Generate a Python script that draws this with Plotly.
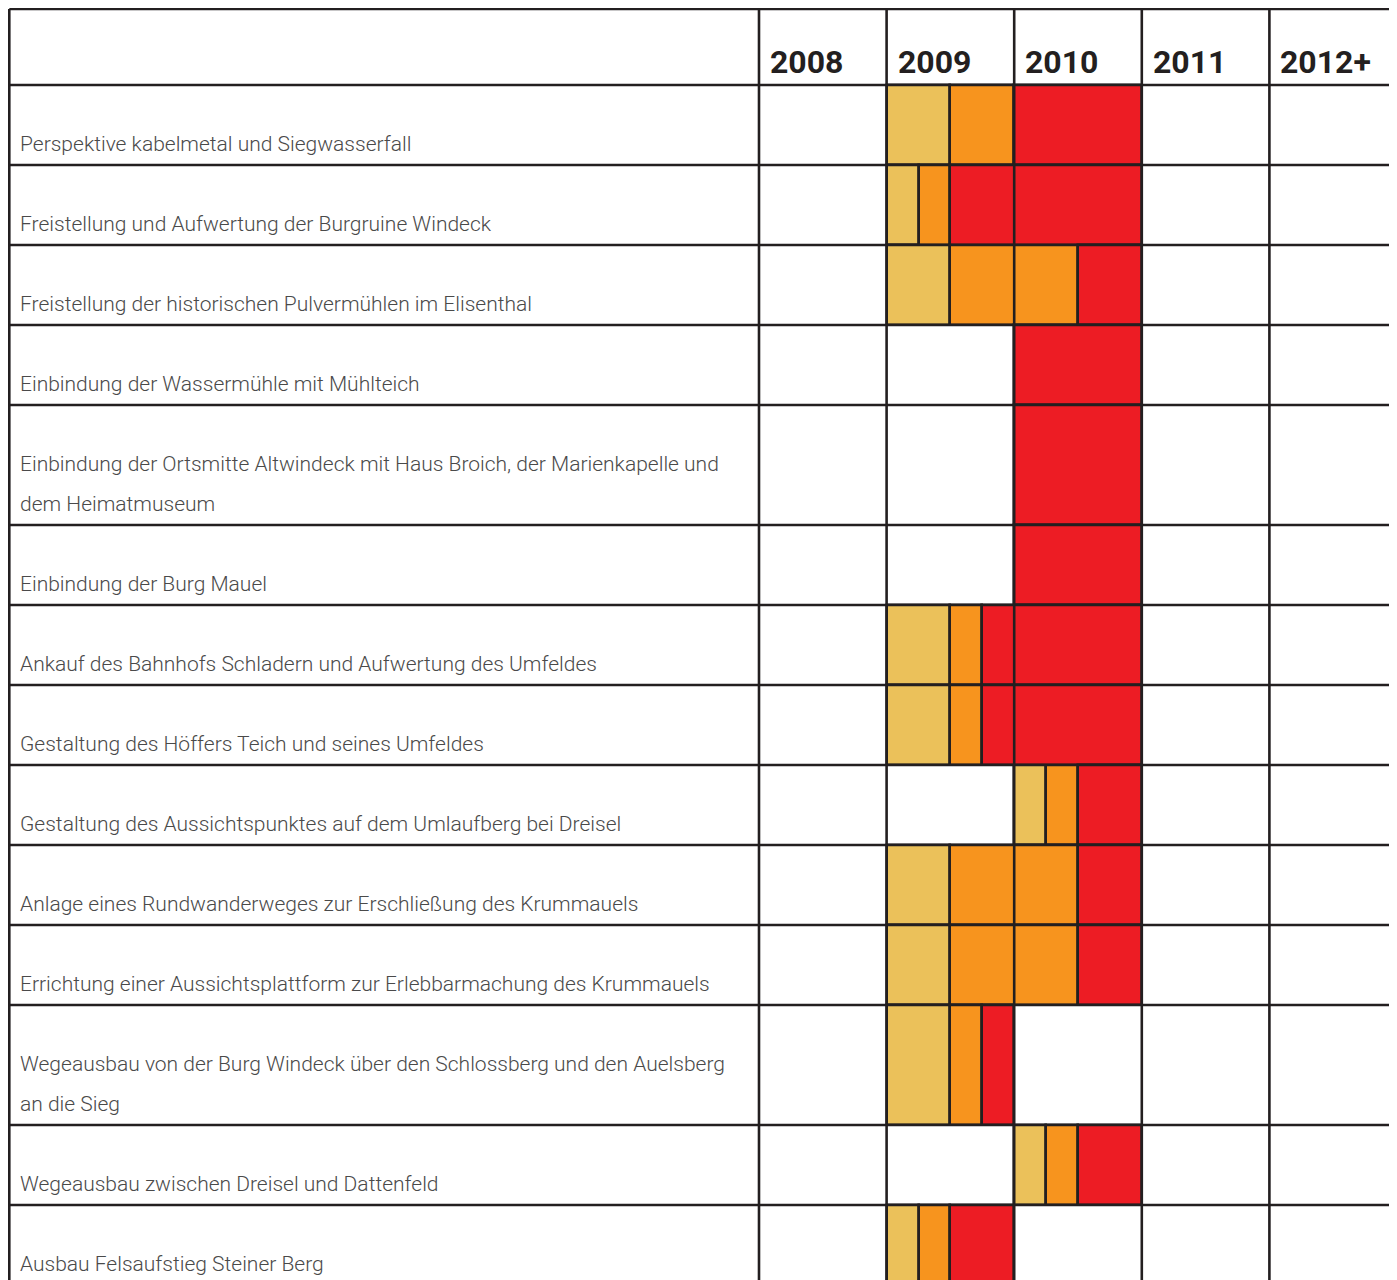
import plotly.graph_objects as go

# ---------------- data ----------------
years = [2008, 2009, 2010, 2011, 2012]
year_labels = ["2008", "2009", "2010", "2011", "2012+"]

tasks = [
    ["Perspektive kabelmetal und Siegwasserfall"],
    ["Freistellung und Aufwertung der Burgruine Windeck"],
    ["Freistellung der historischen Pulvermühlen im Elisenthal"],
    ["Einbindung der Wassermühle mit Mühlteich"],
    ["Einbindung der Ortsmitte Altwindeck mit Haus Broich, der Marienkapelle und", "dem Heimatmuseum"],
    ["Einbindung der Burg Mauel"],
    ["Ankauf des Bahnhofs Schladern und Aufwertung des Umfeldes"],
    ["Gestaltung des Höffers Teich und seines Umfeldes"],
    ["Gestaltung des Aussichtspunktes auf dem Umlaufberg bei Dreisel"],
    ["Anlage eines Rundwanderweges zur Erschließung des Krummauels"],
    ["Errichtung einer Aussichtsplattform zur Erlebbarmachung des Krummauels"],
    ["Wegeausbau von der Burg Windeck über den Schlossberg und den Auelsberg", "an die Sieg"],
    ["Wegeausbau zwischen Dreisel und Dattenfeld"],
    ["Ausbau Felsaufstieg Steiner Berg"],
]

# phase spans per task (start, end) in years; None = no phase
phase1 = [(2009.0, 2009.5), (2009.0, 2009.25), (2009.0, 2009.5), None, None, None,
          (2009.0, 2009.5), (2009.0, 2009.5), (2010.0, 2010.25), (2009.0, 2009.5),
          (2009.0, 2009.5), (2009.0, 2009.5), (2010.0, 2010.25), (2009.0, 2009.25)]
phase2 = [(2009.5, 2010.0), (2009.25, 2009.5), (2009.5, 2010.5), None, None, None,
          (2009.5, 2009.75), (2009.5, 2009.75), (2010.25, 2010.5), (2009.5, 2010.5),
          (2009.5, 2010.5), (2009.5, 2009.75), (2010.25, 2010.5), (2009.25, 2009.5)]
phase3 = [(2010.0, 2011.0), (2009.5, 2011.0), (2010.5, 2011.0), (2010.0, 2011.0),
          (2010.0, 2011.0), (2010.0, 2011.0), (2009.75, 2011.0), (2009.75, 2011.0),
          (2010.5, 2011.0), (2010.5, 2011.0), (2010.5, 2011.0), (2009.75, 2010.0),
          (2010.5, 2011.0), (2009.5, 2010.0)]

phase_colors = ["#EBC15A", "#F7941E", "#ED1C24"]

# ---------------- layout geometry (figure pixels; page has 8px body margin) ----------------
W, H = 1397, 1280
PX_PER_YEAR = 127.6
X2008_PX = 751.0
PX_PER_UNIT = 40.0        # one text line
TOP_PX = 1.0
HEADER_UNITS = 1.9

x_range = [2008 - X2008_PX / PX_PER_YEAR, 2008 + (W - X2008_PX) / PX_PER_YEAR]
y_range = [(H - TOP_PX) / PX_PER_UNIT, -TOP_PX / PX_PER_UNIT]
left_x = 2008 - (X2008_PX - 1.3) / PX_PER_YEAR

row_heights = [len(t) + 1 for t in tasks]
row_tops = []
acc = HEADER_UNITS
for h in row_heights:
    row_tops.append(acc)
    acc += h
row_centers = [t + h / 2 for t, h in zip(row_tops, row_heights)]

LINE_COLOR = "#231f20"
LW = 2.6

fig = go.Figure()

for phase, col in zip([phase1, phase2, phase3], phase_colors):
    ys, bases, lens, widths = [], [], [], []
    for i, span in enumerate(phase):
        if span is None:
            continue
        ys.append(row_centers[i])
        bases.append(span[0])
        lens.append(span[1] - span[0])
        widths.append(row_heights[i])
    fig.add_trace(go.Bar(
        orientation="h", y=ys, x=lens, base=bases, width=widths,
        marker=dict(color=col, line=dict(color=LINE_COLOR, width=LW)),
        showlegend=False, hoverinfo="skip",
    ))

shapes = []
for yb in [0.0, HEADER_UNITS] + [t + h for t, h in zip(row_tops, row_heights)]:
    shapes.append(dict(type="line", xref="x", yref="y", x0=left_x, x1=x_range[1] + 1,
                       y0=yb, y1=yb, line=dict(color=LINE_COLOR, width=LW), layer="above"))
for xv in [left_x] + years:
    shapes.append(dict(type="line", xref="x", yref="y", x0=xv, x1=xv,
                       y0=0, y1=y_range[0] + 1, line=dict(color=LINE_COLOR, width=LW), layer="above"))

LABEL_FONT = "Roboto, Liberation Sans, sans-serif"
annotations = []
for yr, lab in zip(years, year_labels):
    annotations.append(dict(x=yr, y=1.6 - 0.28, xref="x", yref="y", text=lab,
                            showarrow=False, xanchor="left", yanchor="middle", xshift=9,
                            font=dict(family=LABEL_FONT, size=32, color=LINE_COLOR, weight="bold")))
for i, lines in enumerate(tasks):
    bottom = row_tops[i] + row_heights[i]
    n = len(lines)
    for k, line in enumerate(lines):
        baseline = bottom - 13 / PX_PER_UNIT - (n - 1 - k) * 1.0
        annotations.append(dict(x=left_x, y=baseline - 8 / PX_PER_UNIT, xref="x", yref="y",
                                text=line, showarrow=False, xanchor="left", yanchor="middle",
                                xshift=9,
                                font=dict(family=LABEL_FONT, size=21, color="#4a4a4a", weight=300)))

fig.update_layout(
    width=W, height=H,
    margin=dict(l=0, r=0, t=0, b=0),
    paper_bgcolor="white", plot_bgcolor="white",
    barmode="overlay", bargap=0,
    xaxis=dict(range=x_range, visible=False, fixedrange=True),
    yaxis=dict(range=y_range, visible=False, fixedrange=True),
    shapes=shapes, annotations=annotations,
    showlegend=False,
)

fig.write_html("out.html")
